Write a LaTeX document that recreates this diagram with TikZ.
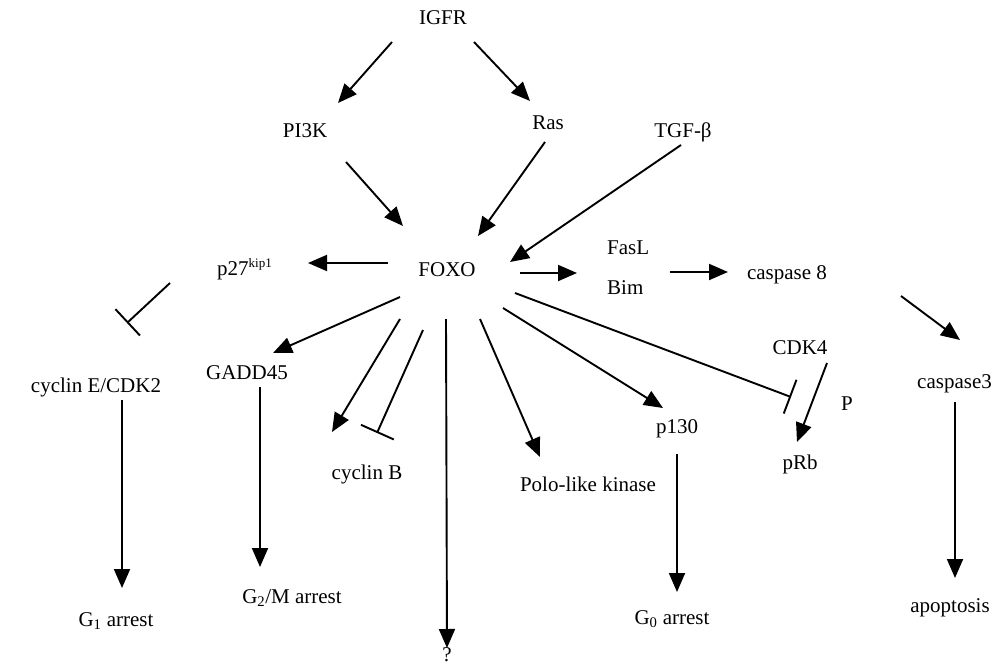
\documentclass[tikz,border=0pt]{standalone}
\usepackage{fontspec}
\setmainfont{Liberation Serif}
\usetikzlibrary{arrows.meta,calc}
\begin{document}
\begin{tikzpicture}[x=1pt,y=-1pt,
  lbl/.style={inner sep=0pt,anchor=base,font=\fontsize{21}{25}\selectfont},
  lblw/.style={lbl,anchor=base west},
  arr/.style={line width=1.9pt,-{Triangle[length=19pt,width=16pt]}},
  inh/.style={line width=1.9pt,-{Bar[width=36pt,line width=1.9pt]}}]
\useasboundingbox (0,0) rectangle (993,666);
\fill[white] (0,0) rectangle (993,666);
% nodes
\node[lbl] (IGFR) at (443,25) {IGFR};
\node[lbl] (PI3K) at (305,138) {PI3K};
\node[lbl] (Ras) at (548,130) {Ras};
\node[lbl] (TGF) at (683,138) {TGF-β};
\node[lbl] (FOXO) at (447,276) {FOXO};
\node[lblw] (p27) at (217,275) {p27\textsuperscript{\fontsize{13}{15}\selectfont kip1}};
\node[lblw] (FasL) at (607,254) {FasL};
\node[lblw] (Bim) at (607,294) {Bim};
\node[lbl] (casp8) at (787,279) {caspase 8};
\node[lbl] (cycE) at (96,392) {cyclin E/CDK2};
\node[lbl] (GADD) at (247,379) {GADD45};
\node[lbl] (cycB) at (367,479) {cyclin B};
\node[lbl] (Polo) at (588,491) {Polo-like kinase};
\node[lbl] (p130) at (677,433) {p130};
\node[lbl] (CDK4) at (800,354) {CDK4};
\node[lbl] (P) at (847,410) {P};
\node[lbl] (pRb) at (800,469) {pRb};
\node[lblw] (casp3) at (917,388) {caspase3};
\node[lbl] (G1) at (116,626) {G\textsubscript{1} arrest};
\node[lbl] (G2M) at (292,603) {G\textsubscript{2}/M arrest};
\node[lbl] (Q) at (447,661) {?};
\node[lbl] (G0) at (672,624) {G\textsubscript{0} arrest};
\node[lbl] (apop) at (950,612) {apoptosis};
% connectors
\draw[arr] ($(IGFR.base)+(-51,17)$) -- ($(PI3K.base)+(33,-35)$);
\draw[arr] ($(IGFR.base)+(31,17)$) -- ($(Ras.base)+(-18,-29)$);
\draw[arr] ($(PI3K.base)+(41,24)$) -- ($(FOXO.base)+(-44,-50)$);
\draw[arr] ($(Ras.base)+(-3,12)$) -- ($(FOXO.base)+(31,-40)$);
\draw[arr] ($(TGF.base)+(-2,7)$) -- ($(FOXO.base)+(63,-14)$);
\draw[arr] ($(FOXO.base)+(-59,-13)$) -- ($(p27.base west)+(91,-12)$);
\draw[arr] ($(FOXO.base)+(73,-3)$) -- ($(Bim.base west)+(-30,-21)$);
\draw[arr] ($(Bim.base west)+(63,-22)$) -- ($(casp8.base)+(-59,-7)$);
\draw[arr] ($(casp8.base)+(114,17)$) -- ($(casp3.base west)+(43,-48)$);
\draw[inh] ($(p27.base west)+(-47,8)$) -- ($(cycE.base)+(31,-69)$);
\draw[arr] ($(cycE.base)+(26,8)$) -- ($(G1.base)+(6,-38)$);
\draw[arr] ($(FOXO.base)+(-47,21)$) -- ($(GADD.base)+(26,-26)$);
\draw[arr] ($(GADD.base)+(13,8)$) -- ($(G2M.base)+(-32,-36)$);
\draw[arr] ($(FOXO.base)+(-47,43)$) -- ($(cycB.base)+(-35,-47)$);
\draw[inh] ($(FOXO.base)+(-24,54)$) -- ($(cycB.base)+(10,-46)$);
\draw[arr] ($(FOXO.base)+(-1,43)$) -- ($(Q.base)+(0,-13)$);
\draw[arr] ($(FOXO.base)+(33,43)$) -- ($(Polo.base)+(-48,-34)$);
\draw[arr] ($(FOXO.base)+(56,32)$) -- ($(p130.base)+(-14,-25)$);
\draw[arr] ($(p130.base)+(0,21)$) -- ($(G0.base)+(5,-32)$);
\draw[inh] ($(FOXO.base)+(68,17)$) -- ($(pRb.base)+(-9,-72)$);
\draw[arr] ($(CDK4.base)+(27,9)$) -- ($(pRb.base)+(-3,-27)$);
\draw[arr] ($(casp3.base west)+(38,14)$) -- ($(apop.base)+(5,-34)$);
\end{tikzpicture}
\end{document}
